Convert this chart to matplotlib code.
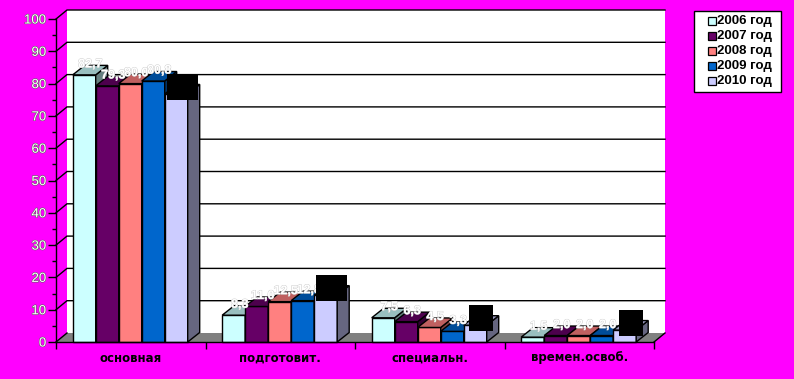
import matplotlib
matplotlib.use("Agg")
import matplotlib.patheffects as pe
import matplotlib.pyplot as plt
from matplotlib.colors import to_rgb
from matplotlib.patches import Polygon, Rectangle

W, H = 794, 379
MAGENTA = "#ff00ff"

categories = ["основная", "подготовит.", "специальн.", "времен.освоб."]
years = ["2006 год", "2007 год", "2008 год", "2009 год", "2010 год"]
colors = ["#ccffff", "#660066", "#ff8080", "#0066cc", "#ccccff"]

v2006 = [82.7, 8.3, 7.5, 1.5]
v2007 = [79.3, 11.0, 6.3, 2.0]
v2008 = [80.0, 12.5, 4.5, 2.0]
v2009 = [80.8, 12.8, 3.3, 2.0]
v2010 = [76.8, 14.5, 5.2, 3.7]
series = [v2006, v2007, v2008, v2009, v2010]

# front plane of the fake 3d box, in pixels
LEFT, RIGHT, BOTTOM, TOP = 56, 654, 342, 19
WALL_DX = 11 * 4 / (RIGHT - LEFT)  # category units
WALL_DY = 9 * 100 / (BOTTOM - TOP)  # value units
BAR_DX = 12 * 4 / (RIGHT - LEFT)
BAR_DY = 9.5 * 100 / (BOTTOM - TOP)
BAR_W = 23 * 4 / (RIGHT - LEFT)


def shade(color, k):
    return tuple(c * k for c in to_rgb(color))


def draw_legend(fig):
    # legend is placed by hand, the box padding is uneven in the original
    fig.add_artist(Rectangle((694 / W, 1 - 92 / H), 87 / W, 81 / H, fc="white", ec="black", lw=1.0,
                             transform=fig.transFigure))
    for i, (year, col) in enumerate(zip(years, colors)):
        cy = 21 + i * 15
        fig.add_artist(Rectangle((708 / W, 1 - (cy + 4) / H), 7.5 / W, 8 / H, fc=col, ec="black", lw=0.9,
                                 transform=fig.transFigure))
        fig.text(717 / W, 1 - cy / H, year, fontsize=9.5, family="Liberation Sans", fontweight="bold",
                 va="center", ha="left", color="black")


def main():
    fig = plt.figure(figsize=(W / 100, H / 100), dpi=100, facecolor=MAGENTA)
    ax = fig.add_axes([LEFT / W, 1 - BOTTOM / H, (RIGHT - LEFT) / W, (BOTTOM - TOP) / H])
    ax.set_xlim(0, 4)
    ax.set_ylim(0, 100)
    ax.patch.set_visible(False)
    for side in ("top", "right"):
        ax.spines[side].set_visible(False)
    ax.spines["left"].set_linewidth(1.0)
    ax.spines["bottom"].set_linewidth(1.0)
    ax.spines["bottom"].set_zorder(150)

    # walls and floor
    ax.add_patch(Polygon([(0, 0), (WALL_DX, WALL_DY), (WALL_DX, 100 + WALL_DY), (4 + WALL_DX, 100 + WALL_DY),
                          (4 + WALL_DX, WALL_DY), (4, 0)], closed=True, fc="white", ec="none",
                         clip_on=False, zorder=0))
    ax.add_patch(Polygon([(0, 0), (WALL_DX, WALL_DY), (4 + WALL_DX, WALL_DY), (4, 0)], closed=True,
                         fc="#808080", ec="none", clip_on=False, zorder=1))
    ax.plot([0, WALL_DX], [0, WALL_DY], color="black", lw=1.0, clip_on=False, zorder=1)
    ax.plot([4, 4 + WALL_DX], [0, WALL_DY], color="black", lw=1.0, clip_on=False, zorder=1)
    for y in range(10, 101, 10):
        ax.plot([0, WALL_DX, 4 + WALL_DX], [y, y + WALL_DY, y + WALL_DY], color="black", lw=1.0,
                clip_on=False, zorder=1, solid_joinstyle="miter")

    # bars, painted left to right so later ones cover earlier sides
    z = 2
    for c in range(4):
        for i, vals in enumerate(series):
            x0 = c + 16.7 * 4 / (RIGHT - LEFT) + i * BAR_W
            v = vals[c]
            ax.bar(x0, v, BAR_W, align="edge", color=colors[i], edgecolor="black", linewidth=1.0,
                   clip_on=False, zorder=z)
            x1 = x0 + BAR_W
            ax.add_patch(Polygon([(x1, 0), (x1 + BAR_DX, BAR_DY), (x1 + BAR_DX, v + BAR_DY), (x1, v)],
                                 closed=True, fc=shade(colors[i], 0.5), ec="black", lw=1.0,
                                 clip_on=False, zorder=z))
            ax.add_patch(Polygon([(x0, v), (x0 + BAR_DX, v + BAR_DY), (x1 + BAR_DX, v + BAR_DY), (x1, v)],
                                 closed=True, fc=shade(colors[i], 0.75), ec="black", lw=1.0,
                                 clip_on=False, zorder=z))
            z += 1
            if i < 4:
                t = ax.text(x0 + BAR_W / 2 + BAR_DX / 2, v + BAR_DY + 0.3, f"{v:.1f}".replace(".", ","),
                            color="white", fontsize=9, family="Liberation Sans", fontweight="bold",
                            ha="center", va="center", zorder=200)
                t.set_path_effects([pe.withStroke(linewidth=0.6, foreground="#c8c8c8")])

    # black label boxes over the 2010 values
    boxes = [(167, 74, 31, 25.7), (316, 275, 31, 25.6), (469, 305, 24, 26), (619, 310, 24, 26)]
    for px, py, pw, ph in boxes:
        ax.add_patch(Rectangle(((px - LEFT) * 4 / (RIGHT - LEFT), (BOTTOM - py - ph) * 100 / (BOTTOM - TOP)),
                               pw * 4 / (RIGHT - LEFT), ph * 100 / (BOTTOM - TOP), fc="black", ec="none",
                               clip_on=False, zorder=300))

    ax.set_yticks(range(0, 101, 10))
    ax.set_yticks(range(5, 100, 10), minor=True)
    ax.tick_params(axis="y", which="major", length=6, width=1.0, color="black", pad=1)
    ax.tick_params(axis="y", which="minor", length=3, width=1.0, color="black")
    labels = ax.set_yticklabels([str(t) for t in range(0, 101, 10)], family="Liberation Sans",
                                fontsize=9.5, color="white")
    for t in labels:
        t.set_path_effects([pe.withStroke(linewidth=0.8, foreground="#606060")])

    ax.set_xticks(range(5))
    ax.tick_params(axis="x", length=5, width=1.0, color="black", labelbottom=False)
    for c, name in enumerate(categories):
        ax.annotate(name, (c + 0.5, 0), xytext=(0, -16), textcoords="offset pixels", annotation_clip=False,
                    ha="center", va="center", fontsize=8.5, fontweight="bold", family="DejaVu Sans", color="black")

    draw_legend(fig)

    fig.savefig("out.png", dpi=100, facecolor=MAGENTA)


if __name__ == "__main__":
    main()
